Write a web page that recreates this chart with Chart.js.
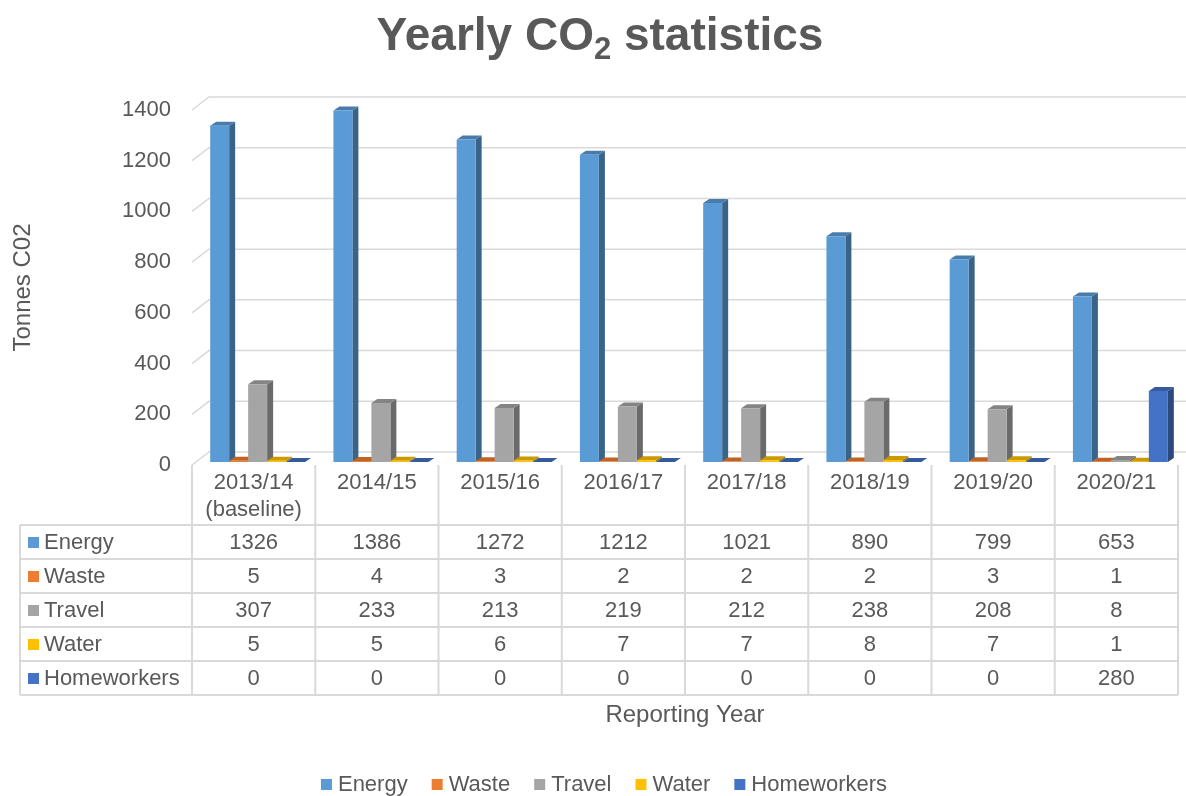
<!DOCTYPE html>
<html>
<head>
<meta charset="utf-8">
<script src="https://cdn.jsdelivr.net/npm/chart.js@4.4.0/dist/chart.umd.min.js"></script>
<style>
  html, body { margin: 0; padding: 0; background: #fff; }
</style>
</head>
<body>
<canvas id="co2Chart" width="1186" height="796"></canvas>
<script>
const years = [['2013/14', '(baseline)'], '2014/15', '2015/16', '2016/17', '2017/18', '2018/19', '2019/20', '2020/21'];
const energy = [1326, 1386, 1272, 1212, 1021, 890, 799, 653];
const waste = [5, 4, 3, 2, 2, 2, 3, 1];
const travel = [307, 233, 213, 219, 212, 238, 208, 8];
const water = [5, 5, 6, 7, 7, 8, 7, 1];
const homeworkers = [0, 0, 0, 0, 0, 0, 0, 280];
const seriesNames = ['Energy', 'Waste', 'Travel', 'Water', 'Homeworkers'];
const seriesColors = ['#5B9BD5', '#ED7D31', '#A5A5A5', '#FFC000', '#4472C4'];
const yTicks = [0, 200, 400, 600, 800, 1000, 1200, 1400];

const seriesData = [energy, waste, travel, water, homeworkers];
const FONT = "'Liberation Sans', Arial, sans-serif";
const TEXT = '#595959';
const GRID = '#d9d9d9';

// fake 3d: wall offset, bar offset inside the floor, bar depth
const WALL = { x: 17, y: -13 };
const SHIFT = { x: 4, y: -3 };
const DEPTH = { x: 6, y: -4 };
const HEADER_H = 60;
const ROW_H = 34;
const TABLE_LEFT = 20;

function shade(hex, f) {
    const n = parseInt(hex.slice(1), 16);
    const r = Math.round(((n >> 16) & 255) * f);
    const g = Math.round(((n >> 8) & 255) * f);
    const b = Math.round((n & 255) * f);
    return `rgb(${r},${g},${b})`;
}

const bars3d = {
    id: 'bars3d',
    beforeDatasetsDraw(chart) {
        const { ctx, chartArea, scales: { y } } = chart;
        // back wall grid lines with the little diagonal on the left
        ctx.save();
        ctx.strokeStyle = GRID;
        ctx.lineWidth = 1.5;
        y.ticks.forEach(t => {
            const py = y.getPixelForValue(t.value);
            ctx.beginPath();
            ctx.moveTo(chartArea.left, py);
            ctx.lineTo(chartArea.left + WALL.x, py + WALL.y);
            ctx.lineTo(chart.width, py + WALL.y);
            ctx.stroke();
        });
        ctx.restore();

        ctx.save();
        ctx.translate(SHIFT.x, SHIFT.y);
        chart.data.datasets.forEach((ds, i) => {
            const meta = chart.getDatasetMeta(i);
            meta.data.forEach(bar => {
                const { x, y: top, base, width } = bar.getProps(['x', 'y', 'base', 'width'], true);
                const l = x - width / 2, r = x + width / 2;
                ctx.fillStyle = shade(ds.backgroundColor, 0.64);
                ctx.beginPath();
                ctx.moveTo(r, top);
                ctx.lineTo(r + DEPTH.x, top + DEPTH.y);
                ctx.lineTo(r + DEPTH.x, base + DEPTH.y);
                ctx.lineTo(r, base);
                ctx.closePath();
                ctx.fill();
                ctx.fillStyle = shade(ds.backgroundColor, 0.8);
                ctx.beginPath();
                ctx.moveTo(l, top);
                ctx.lineTo(l + DEPTH.x, top + DEPTH.y);
                ctx.lineTo(r + DEPTH.x, top + DEPTH.y);
                ctx.lineTo(r, top);
                ctx.closePath();
                ctx.fill();
            });
        });
    },
    afterDatasetsDraw(chart) {
        chart.ctx.restore();
    }
};

const dataTable = {
    id: 'dataTable',
    afterDraw(chart) {
        const { ctx, chartArea, scales: { x } } = chart;
        const n = years.length;
        const colW = (x.right - x.left) / n;
        const rowTop = chartArea.bottom + HEADER_H;
        const bottom = rowTop + ROW_H * seriesNames.length;

        ctx.save();
        ctx.strokeStyle = GRID;
        ctx.lineWidth = 2;
        for (let k = 0; k <= n; k++) {
            const px = x.left + k * colW;
            ctx.beginPath();
            ctx.moveTo(px, chartArea.bottom);
            ctx.lineTo(px, bottom);
            ctx.stroke();
        }
        ctx.beginPath();
        ctx.moveTo(TABLE_LEFT, rowTop);
        ctx.lineTo(TABLE_LEFT, bottom);
        ctx.stroke();
        for (let r = 0; r <= seriesNames.length; r++) {
            const py = rowTop + r * ROW_H;
            ctx.beginPath();
            ctx.moveTo(TABLE_LEFT, py);
            ctx.lineTo(x.right, py);
            ctx.stroke();
        }

        ctx.font = `22px ${FONT}`;
        ctx.textBaseline = 'middle';
        seriesNames.forEach((name, r) => {
            const cy = rowTop + r * ROW_H + ROW_H / 2;
            ctx.fillStyle = seriesColors[r];
            ctx.fillRect(TABLE_LEFT + 8, cy - 5, 11, 11);
            ctx.fillStyle = TEXT;
            ctx.textAlign = 'left';
            ctx.fillText(name, TABLE_LEFT + 24, cy + 1);
            ctx.textAlign = 'center';
            seriesData[r].forEach((v, c) => {
                ctx.fillText(String(v), x.getPixelForValue(c), cy + 1);
            });
        });

        // legend under the axis title
        const gapBox = 6, gapItem = 24, box = 11;
        const widths = seriesNames.map(s => ctx.measureText(s).width);
        const total = widths.reduce((a, w) => a + w + box + gapBox, 0) + gapItem * (seriesNames.length - 1);
        let lx = 604 - total / 2;
        const ly = 784;
        ctx.textAlign = 'left';
        seriesNames.forEach((s, i) => {
            ctx.fillStyle = seriesColors[i];
            ctx.fillRect(lx, ly - 5, box, box);
            ctx.fillStyle = TEXT;
            ctx.fillText(s, lx + box + gapBox, ly + 1);
            lx += box + gapBox + widths[i] + gapItem;
        });

        // title with subscript 2
        const parts = ['Yearly CO', '2', ' statistics'];
        ctx.font = `bold 46px ${FONT}`;
        const w1 = ctx.measureText(parts[0]).width;
        const w3 = ctx.measureText(parts[2]).width;
        ctx.font = `bold 31px ${FONT}`;
        const w2 = ctx.measureText(parts[1]).width;
        let tx = 600 - (w1 + w2 + w3) / 2;
        ctx.textBaseline = 'alphabetic';
        ctx.fillStyle = TEXT;
        ctx.font = `bold 46px ${FONT}`;
        ctx.fillText(parts[0], tx, 50);
        ctx.font = `bold 31px ${FONT}`;
        ctx.fillText(parts[1], tx + w1, 59);
        ctx.font = `bold 46px ${FONT}`;
        ctx.fillText(parts[2], tx + w1 + w2, 50);
        ctx.restore();
    }
};

new Chart(document.getElementById('co2Chart'), {
    type: 'bar',
    data: {
        labels: years,
        datasets: seriesNames.map((name, i) => ({
            label: name,
            data: seriesData[i],
            backgroundColor: seriesColors[i],
            borderWidth: 0,
            categoryPercentage: 0.77,
            barPercentage: 1,
            clip: false
        }))
    },
    options: {
        responsive: false,
        devicePixelRatio: 1,
        animation: false,
        layout: { padding: { top: 110, right: 8, bottom: 0, left: 0 } },
        plugins: {
            legend: { display: false },
            title: { display: false },
            tooltip: { enabled: false }
        },
        scales: {
            x: {
                grid: { display: false, drawTicks: false },
                border: { display: false },
                ticks: {
                    color: TEXT,
                    font: { family: FONT, size: 22 },
                    padding: 5,
                    maxRotation: 0,
                    autoSkip: false
                },
                title: {
                    display: true,
                    text: 'Reporting Year',
                    color: TEXT,
                    font: { family: FONT, size: 24 },
                    padding: { top: 0, bottom: 66 }
                },
                afterFit: (scale) => { scale.height = 331; }
            },
            y: {
                min: 0,
                max: 1400,
                grid: { display: false, drawTicks: false },
                border: { display: false },
                afterBuildTicks: (scale) => { scale.ticks = yTicks.map(v => ({ value: v })); },
                ticks: {
                    color: TEXT,
                    font: { family: FONT, size: 22 },
                    padding: 21,
                    callback: (v) => String(v)
                },
                title: {
                    display: true,
                    text: 'Tonnes C02',
                    color: TEXT,
                    font: { family: FONT, size: 24 },
                    padding: { top: 9, bottom: 0 }
                },
                afterFit: (scale) => { scale.width = 192; }
            }
        }
    },
    plugins: [bars3d, dataTable]
});
</script>
</body>
</html>
